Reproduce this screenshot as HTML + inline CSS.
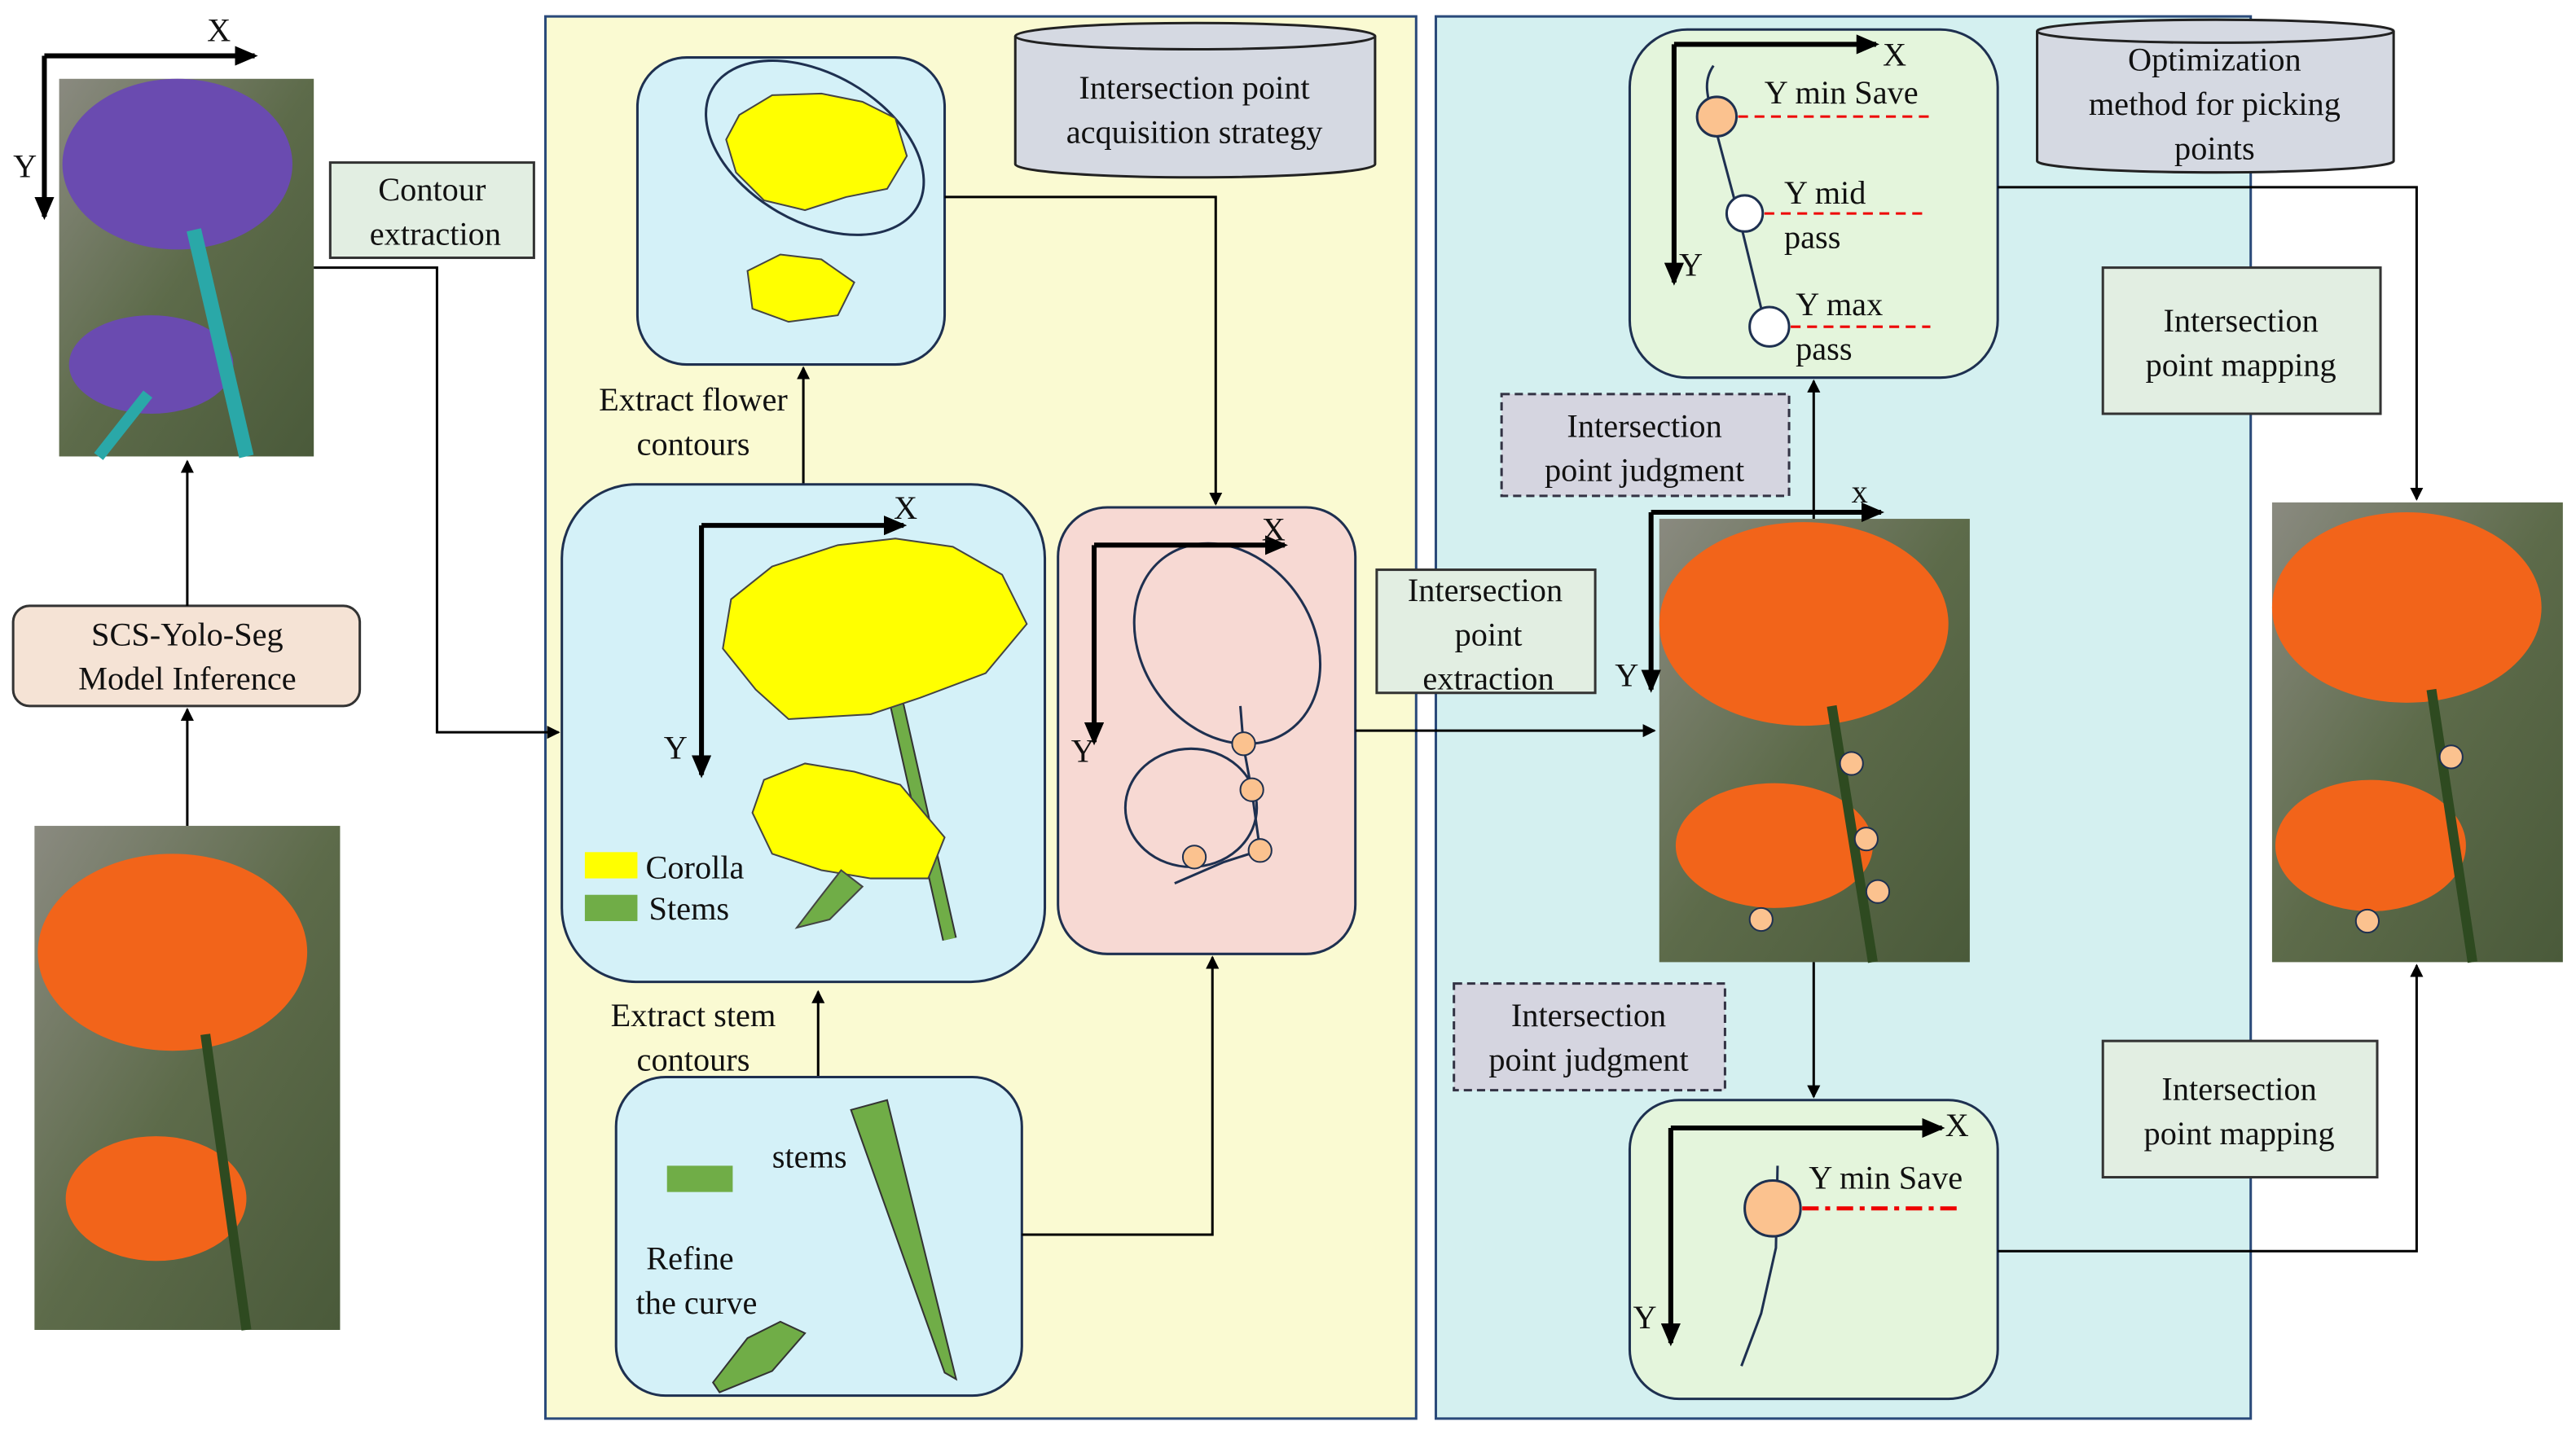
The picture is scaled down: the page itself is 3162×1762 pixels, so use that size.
<!DOCTYPE html>
<html><head><meta charset="utf-8"><style>
html,body{margin:0;padding:0;background:#fff;}
svg{display:block;}
text{font-family:"Liberation Serif",serif;font-size:20px;fill:#111;}
</style></head><body>
<svg width="3162" height="1762" viewBox="0 0 1568 874" preserveAspectRatio="none" xmlns="http://www.w3.org/2000/svg">
<defs>
<marker id="ar" markerWidth="8" markerHeight="8" refX="7" refY="4" orient="auto" markerUnits="userSpaceOnUse"><path d="M0,0 L8,4 L0,8 z" fill="#000"/></marker>
<marker id="ab" markerWidth="14" markerHeight="12" refX="12" refY="6" orient="auto" markerUnits="userSpaceOnUse"><path d="M0,0 L14,6 L0,12 z" fill="#000"/></marker>
<linearGradient id="bg" x1="0" y1="0" x2="1" y2="1"><stop offset="0" stop-color="#8a8a80"/><stop offset="0.5" stop-color="#5d6b4a"/><stop offset="1" stop-color="#4a5a3a"/></linearGradient>
</defs>
<rect width="1568" height="874" fill="#fff"/>

<rect x="332" y="10" width="530" height="854" fill="#fafad2" stroke="#2a4a7a" stroke-width="1.5"/>
<rect x="874" y="10" width="496" height="854" fill="#d4f0f0" stroke="#2a4a7a" stroke-width="1.5"/>

<rect x="36" y="48" width="155" height="230" fill="url(#bg)"/>
<ellipse cx="108" cy="100" rx="70" ry="52" fill="#6a4bb0"/>
<ellipse cx="92" cy="222" rx="50" ry="30" fill="#6a4bb0"/>
<path d="M118,140 L150,278" stroke="#2aa8a8" stroke-width="9"/>
<path d="M90,240 L60,278" stroke="#2aa8a8" stroke-width="7"/>
<line x1="27" y1="34" x2="155" y2="34" stroke="#000" stroke-width="3" marker-end="url(#ab)"/>
<line x1="27" y1="34" x2="27" y2="132" stroke="#000" stroke-width="3" marker-end="url(#ab)"/>
<text x="126" y="25">X</text><text x="8" y="108">Y</text>

<rect x="201" y="99" width="124" height="58" fill="#e2eee2" stroke="#333" stroke-width="1.5"/>
<text x="263" y="122" text-anchor="middle">Contour</text><text x="265" y="149" text-anchor="middle">extraction</text>

<rect x="8" y="369" width="211" height="61" rx="10" fill="#f5e3d5" stroke="#333" stroke-width="1.5"/>
<text x="114" y="393" text-anchor="middle">SCS-Yolo-Seg</text><text x="114" y="420" text-anchor="middle">Model Inference</text>

<rect x="21" y="503" width="186" height="307" fill="url(#bg)"/>
<ellipse cx="105" cy="580" rx="82" ry="60" fill="#f2641a"/>
<ellipse cx="95" cy="730" rx="55" ry="38" fill="#f2641a"/>
<path d="M125,630 L150,810" stroke="#2e4a20" stroke-width="6"/>

<line x1="114" y1="503" x2="114" y2="432" stroke="#000" stroke-width="1.5" marker-end="url(#ar)"/>
<line x1="114" y1="369" x2="114" y2="281" stroke="#000" stroke-width="1.5" marker-end="url(#ar)"/>
<polyline points="191,163 266,163 266,446 340,446" fill="none" stroke="#000" stroke-width="1.5" marker-end="url(#ar)"/>

<rect x="388" y="35" width="187" height="187" rx="30" fill="#d4f1f8" stroke="#1e3050" stroke-width="1.5"/>
<ellipse cx="496" cy="90" rx="72" ry="45" transform="rotate(30 496 90)" fill="none" stroke="#1e3050" stroke-width="1.5"/>
<path d="M450,70 L470,58 L500,57 L525,62 L545,72 L552,95 L540,115 L515,120 L490,128 L465,122 L448,105 L442,85 z" fill="#ffff00" stroke="#444"/>
<path d="M455,165 L475,155 L500,158 L520,172 L510,192 L480,196 L458,188 z" fill="#ffff00" stroke="#444"/>

<path d="M618,22 L618,100 A109,8 0 0 0 837,100 L837,22" fill="#d5d9e2" stroke="#222" stroke-width="1.5"/>
<ellipse cx="727.5" cy="22" rx="109.5" ry="8" fill="#d5d9e2" stroke="#222" stroke-width="1.5"/>
<text x="727" y="60" text-anchor="middle">Intersection point</text><text x="727" y="87" text-anchor="middle">acquisition strategy</text>

<text x="422" y="250" text-anchor="middle">Extract flower</text><text x="422" y="277" text-anchor="middle">contours</text>
<line x1="489" y1="295" x2="489" y2="224" stroke="#000" stroke-width="1.5" marker-end="url(#ar)"/>

<rect x="342" y="295" width="294" height="303" rx="45" fill="#d4f1f8" stroke="#1e3050" stroke-width="1.5"/>
<path d="M545,425 L578,572" stroke="#333" stroke-width="9"/><path d="M545,425 L578,572" stroke="#70ad47" stroke-width="7"/>
<path d="M470,345 L510,332 L545,328 L580,333 L610,350 L625,380 L600,410 L560,425 L530,435 L480,438 L460,420 L440,395 L445,365 z" fill="#ffff00" stroke="#444"/>
<path d="M465,475 L490,465 L520,470 L548,478 L575,510 L565,535 L530,535 L500,530 L470,520 L458,495 z" fill="#ffff00" stroke="#444"/>
<path d="M512,530 L525,540 L505,560 L485,565 L498,548 z" fill="#70ad47" stroke="#444"/>
<line x1="427" y1="320" x2="550" y2="320" stroke="#000" stroke-width="3" marker-end="url(#ab)"/>
<line x1="427" y1="320" x2="427" y2="472" stroke="#000" stroke-width="3" marker-end="url(#ab)"/>
<text x="544" y="316">X</text><text x="404" y="462">Y</text>
<rect x="356" y="519" width="32" height="16" fill="#ffff00"/><text x="393" y="535">Corolla</text>
<rect x="356" y="545" width="32" height="16" fill="#70ad47"/><text x="395" y="560">Stems</text>

<rect x="644" y="309" width="181" height="272" rx="30" fill="#f7d9d3" stroke="#1e3050" stroke-width="1.5"/>
<ellipse cx="747" cy="392" rx="65" ry="52" transform="rotate(55 747 392)" fill="none" stroke="#1e3050" stroke-width="1.5"/>
<ellipse cx="725" cy="492" rx="40" ry="36" fill="none" stroke="#1e3050" stroke-width="1.5"/>
<path d="M755,430 L757,455 L762,482 L767,518 L745,525 L715,538" fill="none" stroke="#1e3050" stroke-width="1.5"/>
<circle cx="757" cy="453" r="7" fill="#fbc28f" stroke="#1e3050"/>
<circle cx="762" cy="481" r="7" fill="#fbc28f" stroke="#1e3050"/>
<circle cx="767" cy="518" r="7" fill="#fbc28f" stroke="#1e3050"/>
<circle cx="727" cy="522" r="7" fill="#fbc28f" stroke="#1e3050"/>
<line x1="666" y1="332" x2="782" y2="332" stroke="#000" stroke-width="3" marker-end="url(#ab)"/>
<line x1="666" y1="332" x2="666" y2="452" stroke="#000" stroke-width="3" marker-end="url(#ab)"/>
<text x="768" y="329">X</text><text x="652" y="464">Y</text>
<polyline points="575,120 740,120 740,307" fill="none" stroke="#000" stroke-width="1.5" marker-end="url(#ar)"/>

<text x="422" y="625" text-anchor="middle">Extract stem</text><text x="422" y="652" text-anchor="middle">contours</text>
<line x1="498" y1="656" x2="498" y2="604" stroke="#000" stroke-width="1.5" marker-end="url(#ar)"/>
<rect x="375" y="656" width="247" height="194" rx="30" fill="#d4f1f8" stroke="#1e3050" stroke-width="1.5"/>
<rect x="406" y="710" width="40" height="16" fill="#70ad47"/>
<text x="470" y="711">stems</text>
<text x="420" y="773" text-anchor="middle">Refine</text><text x="424" y="800" text-anchor="middle">the curve</text>
<path d="M518,676 L540,670 L582,840 L575,836 z" fill="#70ad47" stroke="#333"/>
<path d="M455,815 L475,805 L490,812 L470,835 L438,848 L434,842 z" fill="#70ad47" stroke="#333"/>
<polyline points="622,752 738,752 738,583" fill="none" stroke="#000" stroke-width="1.5" marker-end="url(#ar)"/>

<rect x="838" y="347" width="133" height="75" fill="#e2eee2" stroke="#333" stroke-width="1.5"/>
<text x="904" y="366" text-anchor="middle">Intersection</text><text x="906" y="393" text-anchor="middle">point</text><text x="906" y="420" text-anchor="middle">extraction</text>
<line x1="825" y1="445" x2="1007" y2="445" stroke="#000" stroke-width="1.5" marker-end="url(#ar)"/>

<rect x="992" y="18" width="224" height="212" rx="35" fill="#e4f5dc" stroke="#1e3050" stroke-width="1.5"/>
<line x1="1019" y1="27" x2="1142" y2="27" stroke="#000" stroke-width="3" marker-end="url(#ab)"/>
<line x1="1019" y1="27" x2="1019" y2="172" stroke="#000" stroke-width="3" marker-end="url(#ab)"/>
<text x="1146" y="40">X</text><text x="1022" y="168">Y</text>
<path d="M1043,40 C1036,50 1040,60 1042,70 L1058,130 L1075,200" fill="none" stroke="#1e3050" stroke-width="1.5"/>
<circle cx="1045" cy="71" r="12" fill="#fbc28f" stroke="#1e3050" stroke-width="1.5"/>
<circle cx="1062" cy="130" r="11" fill="#fff" stroke="#1e3050" stroke-width="1.5"/>
<circle cx="1077" cy="199" r="12" fill="#fff" stroke="#1e3050" stroke-width="1.5"/>
<line x1="1058" y1="71" x2="1175" y2="71" stroke="#e00" stroke-width="1.5" stroke-dasharray="6,4"/>
<line x1="1074" y1="130" x2="1170" y2="130" stroke="#e00" stroke-width="1.5" stroke-dasharray="6,4"/>
<line x1="1090" y1="199" x2="1175" y2="199" stroke="#e00" stroke-width="1.5" stroke-dasharray="6,4"/>
<text x="1074" y="63">Y min Save</text>
<text x="1086" y="124">Y  mid</text><text x="1086" y="151">pass</text>
<text x="1093" y="192">Y  max</text><text x="1093" y="219">pass</text>

<path d="M1240,19 L1240,98 A108.5,7 0 0 0 1457,98 L1457,19" fill="#d5d9e2" stroke="#222" stroke-width="1.5"/>
<ellipse cx="1348.5" cy="19" rx="108.5" ry="7" fill="#d5d9e2" stroke="#222" stroke-width="1.5"/>
<text x="1348" y="43" text-anchor="middle">Optimization</text><text x="1348" y="70" text-anchor="middle">method for picking</text><text x="1348" y="97" text-anchor="middle">points</text>

<rect x="914" y="240" width="175" height="62" fill="#d5d5e0" stroke="#334" stroke-width="1.5" stroke-dasharray="5,3"/>
<text x="1001" y="266" text-anchor="middle">Intersection</text><text x="1001" y="293" text-anchor="middle">point judgment</text>
<rect x="885" y="599" width="165" height="65" fill="#d5d5e0" stroke="#334" stroke-width="1.5" stroke-dasharray="5,3"/>
<text x="967" y="625" text-anchor="middle">Intersection</text><text x="967" y="652" text-anchor="middle">point judgment</text>

<rect x="1280" y="163" width="169" height="89" fill="#e2eee2" stroke="#333" stroke-width="1.5"/>
<text x="1364" y="202" text-anchor="middle">Intersection</text><text x="1364" y="229" text-anchor="middle">point mapping</text>
<rect x="1280" y="634" width="167" height="83" fill="#e2eee2" stroke="#333" stroke-width="1.5"/>
<text x="1363" y="670" text-anchor="middle">Intersection</text><text x="1363" y="697" text-anchor="middle">point mapping</text>

<rect x="1010" y="316" width="189" height="270" fill="url(#bg)"/>
<ellipse cx="1098" cy="380" rx="88" ry="62" fill="#f2641a"/>
<ellipse cx="1080" cy="515" rx="60" ry="38" fill="#f2641a"/>
<path d="M1115,430 L1140,586" stroke="#2e4a20" stroke-width="6"/>
<line x1="1005" y1="312" x2="1145" y2="312" stroke="#000" stroke-width="3" marker-end="url(#ab)"/>
<line x1="1005" y1="312" x2="1005" y2="420" stroke="#000" stroke-width="3" marker-end="url(#ab)"/>
<text x="1127" y="306">x</text><text x="983" y="418">Y</text>
<circle cx="1127" cy="465" r="7" fill="#fbc28f" stroke="#1e3050"/>
<circle cx="1136" cy="511" r="7" fill="#fbc28f" stroke="#1e3050"/>
<circle cx="1143" cy="543" r="7" fill="#fbc28f" stroke="#1e3050"/>
<circle cx="1072" cy="560" r="7" fill="#fbc28f" stroke="#1e3050"/>
<line x1="1104" y1="316" x2="1104" y2="232" stroke="#000" stroke-width="1.5" marker-end="url(#ar)"/>
<line x1="1104" y1="586" x2="1104" y2="668" stroke="#000" stroke-width="1.5" marker-end="url(#ar)"/>

<rect x="992" y="670" width="224" height="182" rx="30" fill="#e4f5dc" stroke="#1e3050" stroke-width="1.5"/>
<line x1="1017" y1="687" x2="1182" y2="687" stroke="#000" stroke-width="3" marker-end="url(#ab)"/>
<line x1="1017" y1="687" x2="1017" y2="818" stroke="#000" stroke-width="3" marker-end="url(#ab)"/>
<text x="1184" y="692">X</text><text x="994" y="809">Y</text>
<path d="M1082,710 L1081,760 L1072,800 L1060,832" fill="none" stroke="#1e3050" stroke-width="1.5"/>
<circle cx="1079" cy="736" r="17" fill="#fbc28f" stroke="#1e3050" stroke-width="1.5"/>
<line x1="1097" y1="736" x2="1195" y2="736" stroke="#e00" stroke-width="2.5" stroke-dasharray="10,4,3,4"/>
<text x="1101" y="724">Y  min Save</text>

<rect x="1383" y="306" width="177" height="280" fill="url(#bg)"/>
<ellipse cx="1465" cy="370" rx="82" ry="58" fill="#f2641a"/>
<ellipse cx="1443" cy="515" rx="58" ry="40" fill="#f2641a"/>
<path d="M1480,420 L1505,586" stroke="#2e4a20" stroke-width="6"/>
<circle cx="1492" cy="461" r="7" fill="#fbc28f" stroke="#1e3050"/>
<circle cx="1441" cy="561" r="7" fill="#fbc28f" stroke="#1e3050"/>
<polyline points="1216,114 1471,114 1471,304" fill="none" stroke="#000" stroke-width="1.5" marker-end="url(#ar)"/>
<polyline points="1216,762 1471,762 1471,588" fill="none" stroke="#000" stroke-width="1.5" marker-end="url(#ar)"/>
</svg>
</body></html>
